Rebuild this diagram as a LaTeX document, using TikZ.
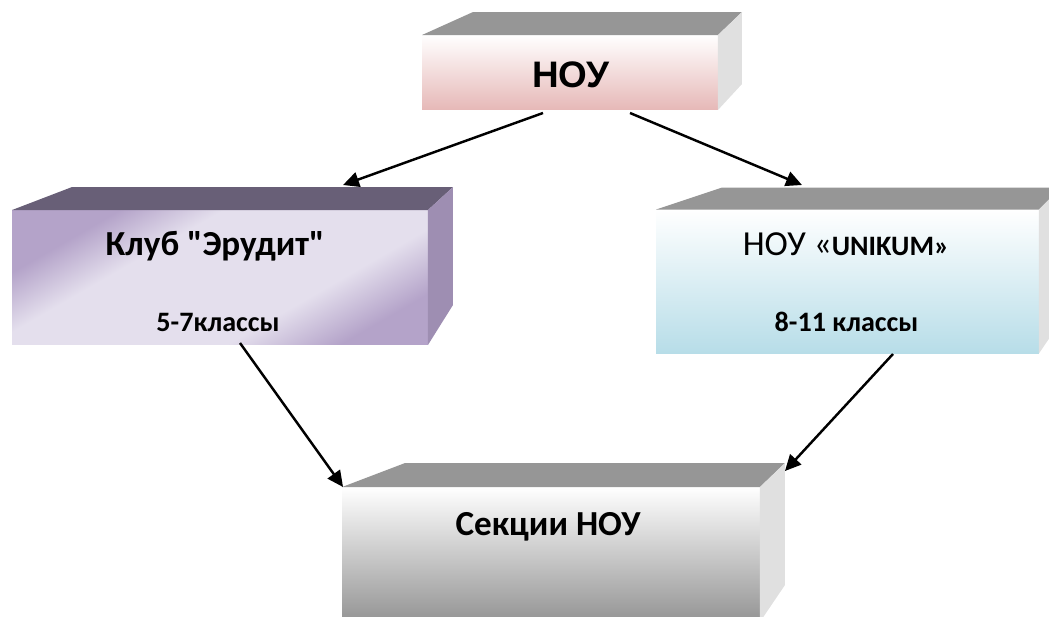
\documentclass[tikz,border=0pt]{standalone}
\usepackage{fontspec}
\setmainfont{Carlito}[Ligatures=TeXOff]
\newfontfamily\arialfont{Liberation Sans}
\usetikzlibrary{calc,arrows.meta}

\definecolor{topgray}{RGB}{150,150,150}
\definecolor{sidegray}{RGB}{224,224,224}
\definecolor{nouPink}{RGB}{230,184,183}
\definecolor{nikBlue}{RGB}{183,221,232}
\definecolor{secGray}{RGB}{148,148,148}
\definecolor{purpDark}{RGB}{180,163,201}
\definecolor{purpLight}{RGB}{228,223,237}
\definecolor{purpTop}{RGB}{104,95,119}
\definecolor{purpSide}{RGB}{158,142,178}

\pgfdeclarehorizontalshading{purpmetal}{100bp}{color(0bp)=(purpDark); color(27bp)=(purpDark); color(38bp)=(purpLight); color(63bp)=(purpLight); color(75bp)=(purpDark); color(100bp)=(purpDark)}

\tikzset{
	front/.style={inner sep=0pt, outer sep=0pt},
	title/.style={font=\bfseries\fontsize{20}{24}\selectfont},
	grade/.style={font=\bfseries\fontsize{16}{19}\selectfont},
	link/.style={line width=1.4pt, -{Triangle[length=0.32cm,width=0.3cm]}},
}

\begin{document}
\begin{tikzpicture}[x=0.02cm, y=-0.02cm]
		%%%%% START %%%%%
		
		\useasboundingbox (0, 0) rectangle (1049, 616);
		\clip (0, 0) rectangle (1049, 616);
		
		% front faces
		\node[front, minimum width=5.92cm, minimum height=1.5cm, top color=white, middle color=nouPink!45!white, bottom color=nouPink] (nou) at (570, 72.5) {};
		\node[front, minimum width=8.32cm, minimum height=2.7cm, shading=purpmetal, shading angle=-60] (erudit) at (220, 277.5) {};
		\node[front, minimum width=7.66cm, minimum height=2.88cm, top color=white, middle color=nikBlue!45!white, bottom color=nikBlue] (unikum) at (847.5, 281.5) {};
		\node[front, minimum width=8.36cm, minimum height=2.7cm, top color=white, middle color=secGray!45!white, bottom color=secGray] (sekcii) at (551, 554.5) {};
		
		% top and side faces
		\fill[topgray] (nou.north west) -- ++(51, -23) -- ++(269, 0) -- (nou.north east) -- cycle;
		\fill[sidegray] (nou.north east) -- ++(24, -23) -- ++(0, 72) -- (nou.south east) -- cycle;
		
		\fill[purpTop] (erudit.north west) -- ++(60, -23) -- ++(381, 0) -- (erudit.north east) -- cycle;
		\fill[purpSide] (erudit.north east) -- ++(25, -23) -- ++(0, 118) -- (erudit.south east) -- cycle;
		
		\fill[topgray] (unikum.north west) -- ++(66, -22) -- ++(340, 0) -- (unikum.north east) -- cycle;
		\fill[sidegray] (unikum.north east) -- ++(23, -23) -- ++(0, 133) -- (unikum.south east) -- cycle;
		
		\fill[topgray] (sekcii.north west) -- ++(63, -24) -- ++(380, 0) -- (sekcii.north east) -- cycle;
		\fill[sidegray] (sekcii.north east) -- ++(25, -24) -- ++(0, 122) -- (sekcii.south east) -- cycle;
		
		% texts
		\node[font=\arialfont\bfseries\fontsize{21}{25}\selectfont] (noutext) at ($(nou.center)+(1, 2.5)$) {НОУ};
		\node[title] (eruditname) at ($(erudit.center)+(-5, -31.5)$) {Клуб "Эрудит"};
		\node[grade] (eruditgrade) at ($(erudit.center)+(-2, 44.5)$) {5-7классы};
		\node[font=\fontsize{20}{24}\selectfont] (unikumname) at ($(unikum.center)+(-1.5, -37.5)$) {НОУ «{\bfseries\fontsize{16}{19}\selectfont UNIKUM»}};
		\node[grade] (unikumgrade) at ($(unikum.center)+(-1, 40.5)$) {8-11 классы};
		\node[title] (sekciiname) at ($(sekcii.north)+(-3, 40)$) {Секции НОУ};
		
		% arrows
		\coordinate (nouL) at ($(nou.south)+(-27, 3)$);
		\coordinate (nouR) at ($(nou.south)+(60, 3)$);
		\coordinate (eruditIn) at ($(erudit.north)+(123, -25)$);
		\coordinate (unikumIn) at ($(unikum.north)+(-45.5, -24.5)$);
		\coordinate (eruditOut) at ($(erudit.south)+(20, -2)$);
		\coordinate (unikumOut) at ($(unikum.south)+(45.5, 0.5)$);
		\coordinate (sekciiL) at ($(sekcii.north west)+(1, 0)$);
		\coordinate (sekciiR) at ($(sekcii.north east)+(25, -16)$);
		
		\draw[link] (nouL) -- (eruditIn);
		\draw[link] (nouR) -- (unikumIn);
		\draw[link] (eruditOut) -- (sekciiL);
		\draw[link] (unikumOut) -- (sekciiR);
		
		%%%%% END %%%%%
\end{tikzpicture}
\end{document}
